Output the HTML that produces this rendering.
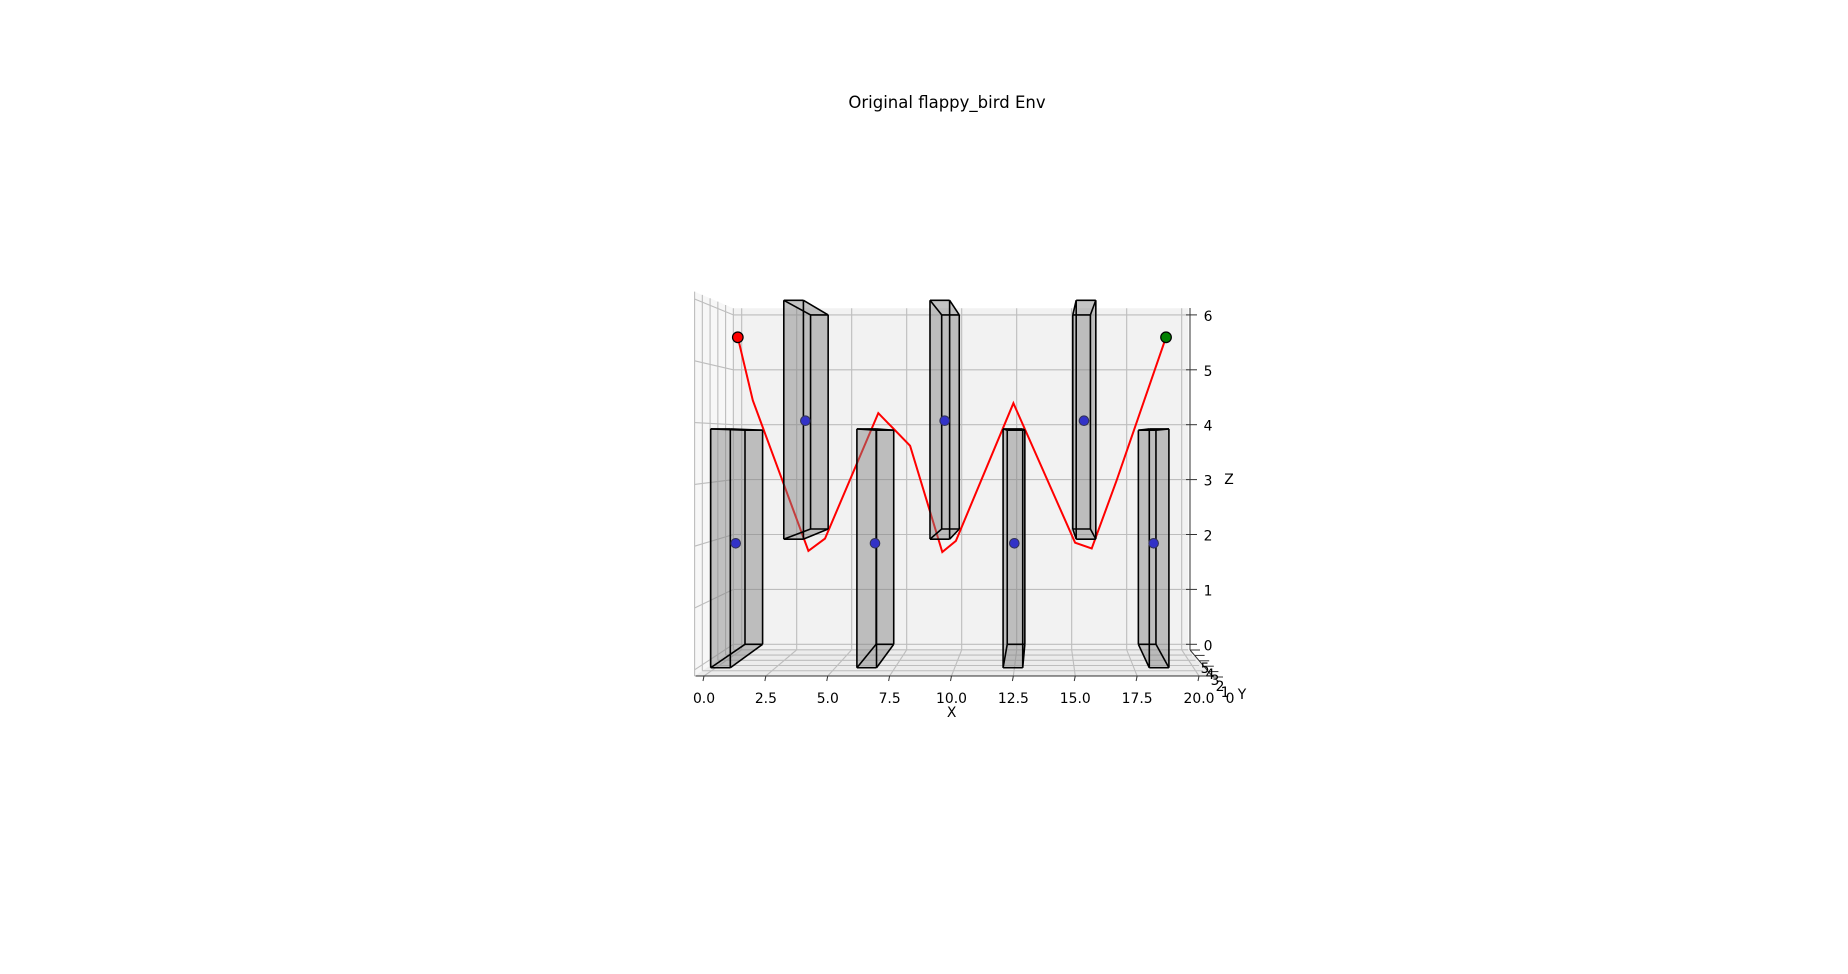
<!DOCTYPE html>
<html><head><meta charset="utf-8"><style>
html,body{margin:0;padding:0;background:#fff;}
svg{display:block;font-family:"DejaVu Sans","Liberation Sans",sans-serif;}
</style></head><body>
<svg id="chart" width="1848" height="974" viewBox="0 0 1848 974">
<text x="947" y="108" text-anchor="middle" font-size="16.5" fill="#000">Original flappy_bird Env</text>
<g id="panes"></g>
<g id="grid"></g>
<g id="traj"></g>
<g id="pipes"></g>
<g id="dots"></g>
<g id="axes"></g>
</svg>
<script>
const pipeX = [0.15, 3.13, 6.11, 9.09, 12.07, 15.05, 18.03];
const pipeBottom = [0, 2.1, 0, 2.1, 0, 2.1, 0];
const pipeTop = [3.9, 6.0, 3.9, 6.0, 3.9, 6.0, 3.9];
const pipeW = 0.8;
const trajX = [0.64, 1.28, 3.66, 4.37, 6.65, 8.01, 9.39, 9.97, 12.43, 15.07, 15.78, 16.85, 18.96];
const trajZ = [5.48, 4.40, 1.82, 2.03, 4.18, 3.62, 1.80, 1.99, 4.35, 1.96, 1.86, 3.03, 5.48];
const xTicks = [0, 2.5, 5, 7.5, 10, 12.5, 15, 17.5, 20];
const xTickLabels = ["0.0","2.5","5.0","7.5","10.0","12.5","15.0","17.5","20.0"];
const zTicks = [0, 1, 2, 3, 4, 5, 6];
const yTicks = [0, 1, 2, 3, 4, 5];

const NS = "http://www.w3.org/2000/svg";
function P(x, d, z) {
  const Xf = 704 + 24.75 * x, Xb = 741.7 + 22 * x;
  const Yf = 669.8 - 61.8 * z, Yb = 644.3 - 54.9 * z;
  return [Xf + (Xb - Xf) * d, Yf + (Yb - Yf) * d];
}
function mk(tag, attrs, parent) {
  const e = document.createElementNS(NS, tag);
  for (const k in attrs) e.setAttribute(k, attrs[k]);
  parent.appendChild(e);
  return e;
}
function pts(a) { return a.map(p => p[0].toFixed(1) + "," + p[1].toFixed(1)).join(" "); }

const panes = document.getElementById("panes");
const grid = document.getElementById("grid");
const XL = -0.38, XR = 20.3, ZB = -0.1, ZT = 6.12;
let e = mk("polygon", {points: pts([P(XL,1,ZB),P(XR,1,ZB),P(XR,1,ZT),P(XL,1,ZT)]), fill:"#f2f2f2"}, panes);


e = mk("polygon", {points: pts([P(XL,0,ZB),P(XL,1,ZB),P(XL,1,ZT),P(XL,0,ZT)]), fill:"#f7f7f7"}, panes);


e = mk("polygon", {points: pts([P(XL,0,ZB),P(XR+0.2,0,ZB),P(XR,1,ZB),P(XL,1,ZB)]), fill:"#ececec"}, panes);



const gc = "#bdbdbd";
xTicks.forEach(x => {
  let a = P(x,1,ZB), b = P(x,1,ZT);
  let l = mk("line", {x1:a[0],y1:a[1],x2:b[0],y2:b[1],stroke:gc,"stroke-width":1.1}, grid);
  
  
  let c = P(x,0,ZB);
  l = mk("line", {x1:a[0],y1:a[1],x2:c[0],y2:c[1],stroke:gc,"stroke-width":1.1}, grid);
  
  
});
zTicks.forEach(z => {
  let a = P(XL,1,z), b = P(XR,1,z), c = P(XL,0,z);
  let l = mk("line", {x1:a[0],y1:a[1],x2:b[0],y2:b[1],stroke:gc,"stroke-width":1.1}, grid);
  
  
  l = mk("line", {x1:a[0],y1:a[1],x2:c[0],y2:c[1],stroke:gc,"stroke-width":1.1}, grid);
  
  
});
yTicks.forEach(y => {
  const d = y / 5;
  let a = P(XL,d,ZB), b = P(XL,d,ZT), c = P(XR,d,ZB);
  let l = mk("line", {x1:a[0],y1:a[1],x2:b[0],y2:b[1],stroke:gc,"stroke-width":1.1}, grid);
  
  
  l = mk("line", {x1:a[0],y1:a[1],x2:c[0],y2:c[1],stroke:gc,"stroke-width":1.1}, grid);
  
  
});

const traj = document.getElementById("traj");
const tp = trajX.map((x,i) => P(x,0.5,trajZ[i]));
e = mk("polyline", {points: pts(tp), fill:"none", stroke:"#ff0000","stroke-width":2}, traj);



function hull(p) {
  p = p.slice().sort((a,b)=>a[0]-b[0]||a[1]-b[1]);
  const cr=(o,a,b)=>(a[0]-o[0])*(b[1]-o[1])-(a[1]-o[1])*(b[0]-o[0]);
  const lo=[],up=[];
  for (const q of p){while(lo.length>=2&&cr(lo[lo.length-2],lo[lo.length-1],q)<=0)lo.pop();lo.push(q);}
  for (const q of p.slice().reverse()){while(up.length>=2&&cr(up[up.length-2],up[up.length-1],q)<=0)up.pop();up.push(q);}
  return lo.slice(0,-1).concat(up.slice(0,-1));
}
const pipes = document.getElementById("pipes");
const D0 = 0.08, D1 = 1;
pipeX.forEach((x0,i) => {
  const g = mk("g", {}, pipes);
  
  
  const x1 = x0 + pipeW, zb = pipeBottom[i], zt = pipeTop[i];
  const c = {};
  [[0,x0],[1,x1]].forEach(([ix,x])=>[[0,D0],[1,D1]].forEach(([id,d])=>[[0,zb],[1,zt]].forEach(([iz,z])=>{c[""+ix+id+iz]=P(x,d,z);})));
  mk("polygon", {points: pts(hull(Object.values(c))), fill:"rgba(130,130,130,0.47)", stroke:"none"}, g);
  const edges = [["000","100"],["010","110"],["001","101"],["011","111"],
                 ["000","010"],["100","110"],["001","011"],["101","111"],
                 ["000","001"],["100","101"],["010","011"],["110","111"]];
  edges.forEach(([a,b]) => {
    mk("line", {x1:c[a][0],y1:c[a][1],x2:c[b][0],y2:c[b][1],stroke:"#000","stroke-width":1.6}, g);
  });
});

const dots = document.getElementById("dots");
pipeX.forEach((x0,i) => {
  const p = P(x0 + pipeW/2, 0.5, (pipeBottom[i]+pipeTop[i])/2);
  const d = mk("circle", {cx:p[0],cy:p[1],r:4.8,fill:"#3232c8",stroke:"#333355","stroke-width":1}, dots);
  
  
});
const ps = tp[0], pe = tp[tp.length-1];
e = mk("circle", {cx:ps[0],cy:ps[1],r:5.3,fill:"#ff0000",stroke:"#000","stroke-width":1.2}, dots);


e = mk("circle", {cx:pe[0],cy:pe[1],r:5.3,fill:"#008000",stroke:"#000","stroke-width":1.2}, dots);



const axes = document.getElementById("axes");
e = mk("line", {x1:695.7,y1:676,x2:1212,y2:676,stroke:"#333","stroke-width":1}, axes);


xTicks.forEach((x,i) => {
  const p = P(x,0,ZB);
  let t = mk("line", {x1:p[0],y1:676,x2:p[0]-1,y2:681,stroke:"#333","stroke-width":1}, axes);
  
  
  t = mk("text", {x:p[0], y:703, "text-anchor":"middle","font-size":"13.9",fill:"#000"}, axes);
  t.textContent = xTickLabels[i];
  
  
});
e = mk("text", {x:951.7, y:717, "text-anchor":"middle","font-size":"13.9",fill:"#000"}, axes);
e.textContent = "X";



e = mk("line", {x1:1190,y1:308,x2:1190,y2:650,stroke:"#333","stroke-width":1}, axes);


zTicks.forEach(z => {
  const y = 644.3 - 54.9*z;
  let t = mk("line", {x1:1186,y1:y,x2:1197,y2:y,stroke:"#333","stroke-width":1}, axes);
  
  
  t = mk("text", {x:1208, y:y+6, "text-anchor":"middle","font-size":"13.9",fill:"#000"}, axes);
  t.textContent = String(z);
  
  
});
e = mk("text", {x:1229, y:484, "text-anchor":"middle","font-size":"13.9",fill:"#000"}, axes);
e.textContent = "Z";



e = mk("line", {x1:1190,y1:650,x2:1213,y2:677,stroke:"#333","stroke-width":1}, axes);


yTicks.forEach(y => {
  const t0 = (5 - y) / 5;
  const ax = 1190 + 23*t0, ay = 650 + 27*t0;
  let t = mk("line", {x1:ax,y1:ay,x2:ax+10,y2:ay,stroke:"#333","stroke-width":1}, axes);
  
  
  t = mk("text", {x:1205+25*t0, y:673+30*t0, "text-anchor":"middle","font-size":"13.9",fill:"#000"}, axes);
  t.textContent = String(y);
  
  
});
e = mk("text", {x:1242, y:699, "text-anchor":"middle","font-size":"13.9",fill:"#000"}, axes);
e.textContent = "Y";


</script>
</body></html>
